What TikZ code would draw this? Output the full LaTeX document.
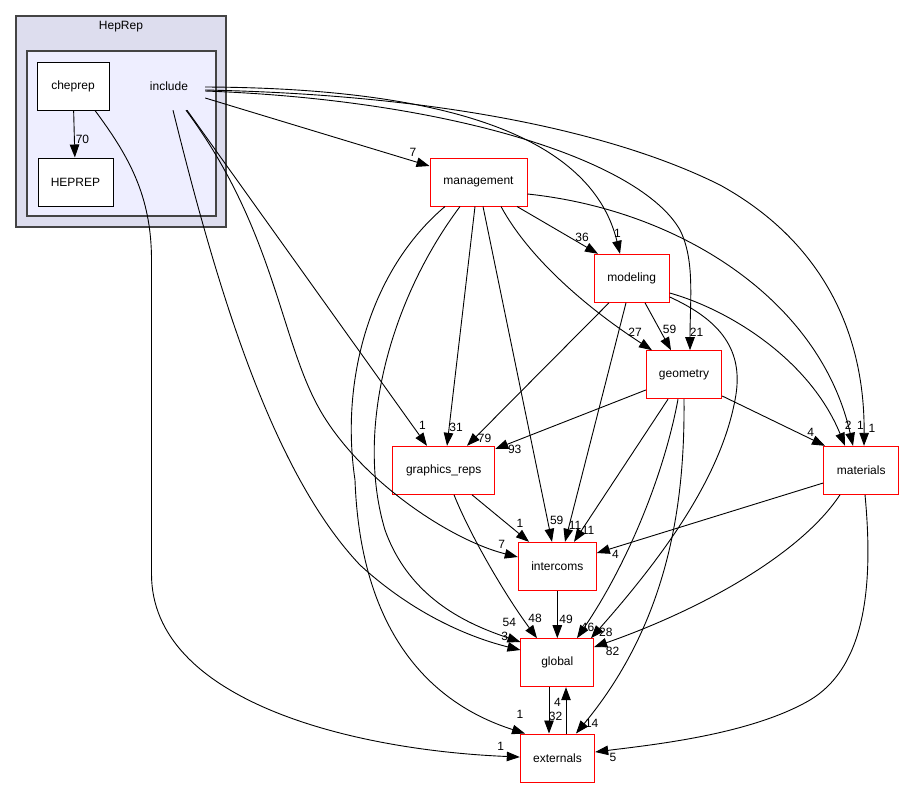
\documentclass[tikz,border=0pt]{standalone}
\usepackage{fontspec}
\setmainfont{Liberation Sans}
\usetikzlibrary{arrows.meta}
\definecolor{outerfill}{HTML}{DDDDEE}
\definecolor{innerfill}{HTML}{EEEEFF}
\definecolor{clusterline}{HTML}{444444}
\begin{document}
\begin{tikzpicture}[x=1pt,y=-1pt,
  every node/.style={font=\fontsize{12}{14}\selectfont, inner sep=0pt},
  edge/.style={draw=black, line width=0.9pt, -{Triangle[length=13pt,width=9.5pt]}},
  pkg/.style={draw=red, line width=1pt, fill=white, minimum height=48pt},
  dirbox/.style={draw=black, line width=1pt, fill=white, minimum height=48pt},
  lbl/.style={font=\fontsize{12}{14}\selectfont, inner sep=0pt}]
\useasboundingbox (0,0) rectangle (904,788);
\fill[white] (0,0) rectangle (904,788);
% clusters
\draw[clusterline, line width=1.5pt, fill=outerfill] (16,16) rectangle (226,227);
\node (heprepT) at (121,27) {HepRep};
\draw[clusterline, line width=1.5pt, fill=innerfill] (27,51) rectangle (216,216);
% nodes
\node[dirbox, minimum width=72pt] (cheprep) at (73,86) {cheprep};
\node[dirbox, minimum width=75pt] (HEPREP) at (75.5,182) {HEPREP};
\node[minimum width=72pt, minimum height=48pt] (include) at (169,86) {include};
\node[pkg, minimum width=97pt] (management) at (478.5,182) {management};
\node[pkg, minimum width=75pt] (modeling) at (631.7,278.3) {modeling};
\node[pkg, minimum width=75.4pt] (geometry) at (684,374.7) {geometry};
\node[pkg, minimum width=75pt] (materials) at (861.2,470.3) {materials};
\node[pkg, minimum width=102pt] (graphics_reps) at (443.7,470.3) {graphics\_reps};
\node[pkg, minimum width=78pt] (intercoms) at (557.3,566.3) {intercoms};
\node[pkg, minimum width=72.7pt] (global) at (557.3,662.7) {global};
\node[pkg, minimum width=74.4pt] (externals) at (557.5,758) {externals};
% edges
\draw[edge] (cheprep) -- (HEPREP);
\draw[edge] (cheprep.south -| 95,0) .. controls (128,155) and (151.5,195) .. (151.5,260) -- (151.5,574) .. controls (151.5,700) and (350,750) .. (externals.west |- 0,757);
\draw[edge] (include.east |- 0,98) -- (management.west |- 0,166);
\draw[edge] (include.east |- 0,87) .. controls (430,88) and (590,130) .. (modeling.north -| 620,0);
\draw[edge] (include.east |- 0,91) .. controls (450,100) and (640,160) .. (680,230) .. controls (695,260) and (690,300) .. (geometry.north -| 690,0);
\draw[edge] (include.east |- 0,90) .. controls (450,95) and (620,135) .. (720,185) .. controls (820,240) and (865,330) .. (materials.north -| 864,0);
\draw[edge] (include.south -| 187,0) -- (graphics_reps.north -| 427,0);
\draw[edge] (include.south -| 186,0) .. controls (275,230) and (280,340) .. (320,410) .. controls (360,480) and (450,540) .. (intercoms.west |- 0,557);
\draw[edge] (include.south -| 173,0) .. controls (215,280) and (270,470) .. (360,565) .. controls (420,620) and (480,640) .. (global.west |- 0,650);
\draw[edge] (management.south -| 445,0) .. controls (370,270) and (340,380) .. (355,480) .. controls (360,620) and (420,700) .. (externals.north -| 525,0);
\draw[edge] (management.south -| 460,0) .. controls (390,300) and (355,430) .. (385,530) .. controls (410,600) and (470,625) .. (global.west |- 0,642);
\draw[edge] (management.south -| 475,0) -- (graphics_reps.north -| 447,0);
\draw[edge] (management.south -| 483,0) -- (intercoms.north -| 552,0);
\draw[edge] (management.south -| 501,0) .. controls (530,260) and (590,310) .. (geometry.north -| 652,0);
\draw[edge] (management.south -| 517,0) -- (modeling.north -| 598,0);
\draw[edge] (management.east |- 0,194) .. controls (680,210) and (820,300) .. (materials.north -| 853,0);
\draw[edge] (modeling.south -| 645,0) -- (geometry.north -| 671,0);
\draw[edge] (modeling.south -| 609,0) -- (graphics_reps.north -| 467,0);
\draw[edge] (modeling.south -| 626,0) -- (intercoms.north -| 565,0);
\draw[edge] (modeling.east |- 0,293) .. controls (730,310) and (810,360) .. (materials.north -| 845,0);
\draw[edge] (modeling.east |- 0,297) .. controls (720,320) and (745,350) .. (735,400) .. controls (720,480) and (660,560) .. (global.north -| 591,0);
\draw[edge] (geometry.east |- 0,396) -- (materials.north -| 825,0);
\draw[edge] (geometry.west |- 0,390) -- (graphics_reps.east |- 0,449);
\draw[edge] (geometry.south -| 668,0) -- (intercoms.north -| 574,0);
\draw[edge] (geometry.south -| 678,0) .. controls (665,470) and (630,560) .. (global.north -| 577,0);
\draw[edge] (geometry.south -| 684,0) .. controls (685,500) and (670,620) .. (externals.north -| 576,0);
\draw[edge] (materials.west |- 0,483) -- (intercoms.east |- 0,553);
\draw[edge] (materials.south -| 840,0) .. controls (800,555) and (700,610) .. (global.east |- 0,647);
\draw[edge] (materials.south -| 865,0) .. controls (875,600) and (860,670) .. (810,700) .. controls (750,735) and (650,745) .. (externals.east |- 0,752);
\draw[edge] (graphics_reps.south -| 472,0) -- (intercoms.north -| 529,0);
\draw[edge] (graphics_reps.south -| 454,0) .. controls (470,535) and (505,595) .. (global.north -| 537,0);
\draw[edge] (intercoms) -- (global);
\draw[edge] (global.south -| 549,0) -- (externals.north -| 549,0);
\draw[edge] (externals.north -| 566,0) -- (global.south -| 566,0);
% edge labels
\node[lbl] (l01) at (82.5,139) {70};
\node[lbl] (l02) at (500.8,746.5) {1};
\node[lbl] (l03) at (413,152.5) {7};
\node[lbl] (l04) at (617.5,233.5) {1};
\node[lbl] (l05) at (696.5,332) {21};
\node[lbl] (l06) at (872,428) {1};
\node[lbl] (l07) at (422.5,425) {1};
\node[lbl] (l08) at (501.7,544) {7};
\node[lbl] (l09) at (504.7,636) {3};
\node[lbl] (l10) at (520,714.7) {1};
\node[lbl] (l11) at (509.3,622.8) {54};
\node[lbl] (l12) at (456,427.5) {31};
\node[lbl] (l13) at (556.7,520.5) {59};
\node[lbl] (l14) at (635,332) {27};
\node[lbl] (l15) at (582,237) {36};
\node[lbl] (l16) at (860.5,425.5) {1};
\node[lbl] (l17) at (669.5,329.5) {59};
\node[lbl] (l18) at (484.5,438) {79};
\node[lbl] (l19) at (575,525) {11};
\node[lbl] (l20) at (848.3,425.3) {2};
\node[lbl] (l21) at (605.8,632) {28};
\node[lbl] (l22) at (810.7,432.5) {4};
\node[lbl] (l23) at (514.7,449) {93};
\node[lbl] (l24) at (588,530.5) {11};
\node[lbl] (l25) at (587.5,627) {46};
\node[lbl] (l26) at (591.7,723.5) {14};
\node[lbl] (l27) at (615.5,554.5) {4};
\node[lbl] (l28) at (612.5,651) {82};
\node[lbl] (l29) at (613,757.7) {5};
\node[lbl] (l30) at (520,523.5) {1};
\node[lbl] (l31) at (535,618) {48};
\node[lbl] (l32) at (566,619.7) {49};
\node[lbl] (l33) at (555.5,716) {32};
\node[lbl] (l34) at (557.5,702.5) {4};
\end{tikzpicture}
\end{document}
